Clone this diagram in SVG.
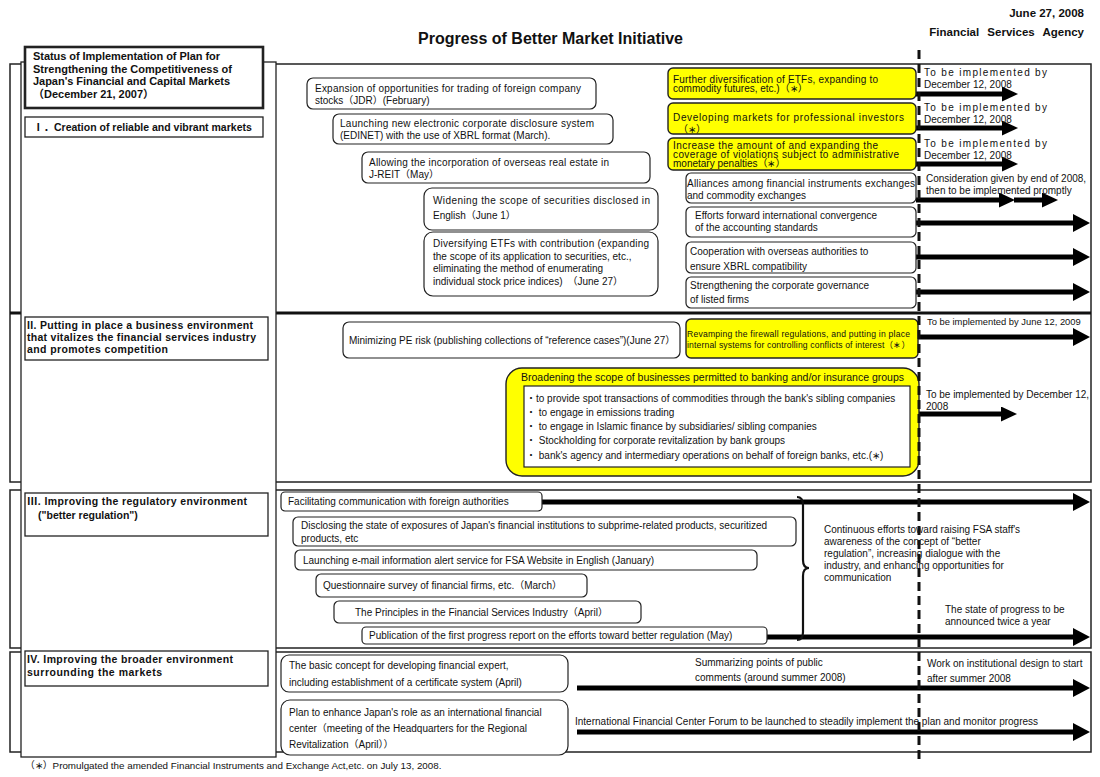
<svg xmlns="http://www.w3.org/2000/svg" width="1100" height="777" viewBox="0 0 1100 777" font-size="10">
<style>
text{font-family:"Liberation Sans",Arial,"Noto Sans CJK JP",sans-serif;fill:#111}
.b{font-weight:bold}
.sec{fill:none;stroke:#222;stroke-width:1.5}
.lbl{fill:#fff;stroke:#222;stroke-width:1.3}
.n{fill:#fff;stroke:#222;stroke-width:1.2}
.y{fill:#ffff00;stroke:#222;stroke-width:1.4}
.ar{stroke:#000;stroke-width:5;fill:none}
</style>
<defs>
<marker id="hb" viewBox="0 0 17 18" refX="0" refY="9" markerWidth="17" markerHeight="18" markerUnits="userSpaceOnUse" orient="auto"><path d="M0,0 L17,9 L0,18 z" fill="#000"/></marker>
<marker id="hs" viewBox="0 0 16 15" refX="0" refY="7.5" markerWidth="16" markerHeight="15" markerUnits="userSpaceOnUse" orient="auto"><path d="M0,0 L16,7.5 L0,15 z" fill="#000"/></marker>
</defs>
<rect width="1100" height="777" fill="#fff"/>

<!-- header -->
<text x="418" y="44" class="b" font-size="16">Progress of Better Market Initiative</text>
<text x="1084" y="17" class="b" font-size="11.5" text-anchor="end">June 27, 2008</text>
<text x="1084" y="36" class="b" font-size="11.5" text-anchor="end" word-spacing="5">Financial Services Agency</text>

<!-- sections -->
<g id="sections">
<rect class="sec" x="10" y="64" width="1081" height="418"/>
<line x1="10" y1="313" x2="1091" y2="313" stroke="#111" stroke-width="3"/>
<rect class="sec" x="10" y="490" width="1081" height="158"/>
<rect class="sec" x="10" y="652" width="1081" height="100"/>
<rect class="lbl" x="21" y="62" width="255" height="695"/>
</g>

<g id="title-box">
<rect x="25" y="47" width="238" height="61" fill="#fff" stroke="#222" stroke-width="2.6"/>
<text x="33" y="60" class="b" font-size="11" textLength="187" lengthAdjust="spacing">Status of Implementation of Plan for</text>
<text x="33" y="73" class="b" font-size="11" textLength="199" lengthAdjust="spacing">Strengthening the Competitiveness of</text>
<text x="33" y="85" class="b" font-size="11" textLength="197" lengthAdjust="spacing">Japan's Financial and Capital Markets</text>
<text x="33" y="98" class="b" font-size="11">（December 21, 2007）</text>
</g>

<g id="label-1">
<rect class="lbl" x="25" y="117" width="238" height="20"/>
<text x="33" y="131" class="b" font-size="10.5">Ⅰ．Creation of reliable and vibrant markets</text>
</g>
<g id="label-2">
<rect class="lbl" x="25" y="317" width="243" height="43"/>
<text x="27" y="329" class="b" font-size="10.5" textLength="226" lengthAdjust="spacing">II. Putting in place a business environment</text>
<text x="27" y="341" class="b" font-size="10.5" textLength="229" lengthAdjust="spacing">that vitalizes the financial services industry</text>
<text x="27" y="353" class="b" font-size="10.5" textLength="141" lengthAdjust="spacing">and promotes competition</text>
</g>
<g id="label-3">
<rect class="lbl" x="25" y="493" width="243" height="43"/>
<text x="27" y="505" class="b" font-size="10.5" textLength="220" lengthAdjust="spacing">Ⅲ. Improving the regulatory environment</text>
<text x="38" y="519" class="b" font-size="10.5">("better regulation")</text>
</g>
<g id="label-4">
<rect class="lbl" x="25" y="651" width="243" height="35"/>
<text x="27" y="663" class="b" font-size="10.5" textLength="206" lengthAdjust="spacing">IV. Improving the broader environment</text>
<text x="27" y="676" class="b" font-size="10.5" textLength="135" lengthAdjust="spacing">surrounding the markets</text>
</g>

<!-- connectors -->
<g id="connectors">
<line class="ar" x1="916" y1="94" x2="1002" y2="94" marker-end="url(#hs)"/>
<line class="ar" x1="916" y1="128" x2="1002" y2="128" marker-end="url(#hs)"/>
<line class="ar" x1="916" y1="164" x2="1002" y2="164" marker-end="url(#hs)"/>
<line class="ar" x1="916" y1="200" x2="999" y2="200" marker-end="url(#hs)"/>
<line class="ar" x1="1014" y1="200" x2="1042" y2="200" marker-end="url(#hs)"/>
<line class="ar" x1="916" y1="223" x2="1073" y2="223" marker-end="url(#hb)"/>
<line class="ar" x1="916" y1="257" x2="1073" y2="257" marker-end="url(#hb)"/>
<line class="ar" x1="916" y1="292" x2="1073" y2="292" marker-end="url(#hb)"/>
<line class="ar" x1="918" y1="337" x2="1073" y2="337" marker-end="url(#hb)"/>
<line class="ar" x1="919" y1="414" x2="1001" y2="414" marker-end="url(#hs)"/>
<line class="ar" x1="542" y1="502" x2="1073" y2="502" marker-end="url(#hb)"/>
<line class="ar" x1="767" y1="637" x2="1073" y2="637" marker-end="url(#hb)"/>
<line class="ar" x1="577" y1="688" x2="1073" y2="688" marker-end="url(#hb)"/>
<line class="ar" x1="577" y1="732" x2="1073" y2="732" marker-end="url(#hb)"/>
<path d="M797,497 Q803,497 803,505 L803,560 Q803,568 809,568 Q803,568 803,576 L803,632 Q803,640 797,640" fill="none" stroke="#111" stroke-width="2.2"/>
</g>

<!-- section I nodes -->
<g id="n-jdr">
<rect class="n" x="307" y="78" width="289" height="31" rx="6"/>
<text x="315" y="92" textLength="266" lengthAdjust="spacing">Expansion of opportunities for trading of foreign company</text>
<text x="315" y="104">stocks（JDR）(February)</text>
</g>
<g id="n-edinet">
<rect class="n" x="333" y="114" width="280" height="30" rx="6"/>
<text x="340" y="127" textLength="254" lengthAdjust="spacing">Launching new electronic corporate disclosure system</text>
<text x="340" y="139">(EDINET) with the use of XBRL format (March).</text>
</g>
<g id="n-jreit">
<rect class="n" x="362" y="152" width="288" height="31" rx="6"/>
<text x="369" y="166" textLength="240" lengthAdjust="spacing">Allowing the incorporation of overseas real estate in</text>
<text x="369" y="178">J-REIT（May）</text>
</g>
<g id="n-english">
<rect class="n" x="424" y="188" width="234" height="42" rx="8"/>
<text x="433" y="204" textLength="217" lengthAdjust="spacing">Widening the scope of securities disclosed in</text>
<text x="433" y="219">English（June 1）</text>
</g>
<g id="n-etf">
<rect class="n" x="424" y="232" width="234" height="64" rx="9"/>
<text x="433" y="247" textLength="216" lengthAdjust="spacing">Diversifying ETFs with contribution (expanding</text>
<text x="433" y="260">the scope of its application to securities, etc.,</text>
<text x="433" y="272">eliminating the method of enumerating</text>
<text x="433" y="285">individual stock price indices)　（June 27）</text>
</g>
<g id="y-etf">
<rect class="y" x="668" y="68" width="248" height="31" rx="5"/>
<text x="673" y="83" textLength="205" lengthAdjust="spacing">Further diversification of ETFs, expanding to</text>
<text x="673" y="92">commodity futures, etc.)（∗）</text>
</g>
<g id="y-pro">
<rect class="y" x="668" y="103" width="248" height="31" rx="5"/>
<text x="673" y="121" textLength="231" lengthAdjust="spacing">Developing markets for professional investors</text>
<text x="678" y="133">（∗）</text>
</g>
<g id="y-penalty">
<rect class="y" x="668" y="138" width="248" height="32" rx="5"/>
<text x="673" y="149" textLength="205" lengthAdjust="spacing">Increase the amount of and expanding the</text>
<text x="673" y="158" textLength="226" lengthAdjust="spacing">coverage of violations subject to administrative</text>
<text x="673" y="167">monetary penalties（∗）</text>
</g>
<g id="n-alliance">
<rect class="n" x="686" y="173" width="230" height="30" rx="5"/>
<text x="687" y="187" textLength="228" lengthAdjust="spacing">Alliances among financial instruments exchanges</text>
<text x="687" y="199">and commodity exchanges</text>
</g>
<g id="n-accounting">
<rect class="n" x="686" y="207" width="230" height="30" rx="5"/>
<text x="695" y="219">Efforts forward international convergence</text>
<text x="695" y="231">of the accounting standards</text>
</g>
<g id="n-xbrl">
<rect class="n" x="686" y="242" width="230" height="31" rx="5"/>
<text x="690" y="255">Cooperation with overseas authorities to</text>
<text x="690" y="270">ensure XBRL compatibility</text>
</g>
<g id="n-governance">
<rect class="n" x="686" y="277" width="230" height="31" rx="5"/>
<text x="690" y="289">Strengthening the corporate governance</text>
<text x="690" y="303">of listed firms</text>
</g>

<!-- arrow texts section I -->
<g id="t-dec1">
<text x="924" y="76" textLength="123" lengthAdjust="spacing">To be implemented by</text>
<text x="924" y="88">December 12, 2008</text>
</g>
<g id="t-dec2">
<text x="924" y="111" textLength="123" lengthAdjust="spacing">To be implemented by</text>
<text x="924" y="123">December 12, 2008</text>
</g>
<g id="t-dec3">
<text x="924" y="147" textLength="123" lengthAdjust="spacing">To be implemented by</text>
<text x="924" y="159">December 12, 2008</text>
</g>
<g id="t-consider">
<text x="926" y="182">Consideration given by end of 2008,</text>
<text x="926" y="194">then to be implemented promptly</text>
</g>

<!-- section II -->
<g id="n-pe">
<rect class="n" x="343" y="322" width="337" height="36" rx="6"/>
<text x="349" y="344">Minimizing PE risk (publishing collections of “reference cases”)(June 27）</text>
</g>
<g id="y-firewall">
<rect class="y" x="686" y="319" width="232" height="39" rx="5"/>
<text x="687" y="337" font-size="8.6" textLength="223" lengthAdjust="spacing">Revamping the firewall regulations, and putting in place</text>
<text x="687" y="348" font-size="8.6" textLength="223" lengthAdjust="spacing">internal systems for controlling conflicts of interest（∗）</text>
</g>
<text x="927" y="325" font-size="9.4">To be implemented by June 12, 2009</text>
<g id="y-broaden">
<rect class="y" x="506" y="368" width="413" height="108" rx="16"/>
<text x="521" y="381" font-size="10.5" textLength="383" lengthAdjust="spacing">Broadening the scope of businesses permitted to banking and/or insurance groups</text>
<rect x="524" y="386" width="386" height="81" fill="#fff" stroke="#222" stroke-width="1.2"/>
<text x="526" y="402">・to provide spot transactions of commodities through the bank's sibling companies</text>
<text x="526" y="416">・ to engage in emissions trading</text>
<text x="526" y="430">・ to engage in Islamic finance by subsidiaries/ sibling companies</text>
<text x="526" y="444">・ Stockholding for corporate revitalization by bank groups</text>
<text x="526" y="459">・ bank's agency and intermediary operations on behalf of foreign banks, etc.(∗)</text>
</g>
<g id="t-dec4">
<text x="926" y="398" textLength="163" lengthAdjust="spacing">To be implemented by December 12,</text>
<text x="926" y="410">2008</text>
</g>

<!-- section III -->
<g id="n-facilitate">
<rect class="n" x="281" y="492" width="261" height="19" rx="4"/>
<text x="288" y="505">Facilitating communication with foreign authorities</text>
</g>
<g id="n-subprime">
<rect class="n" x="293" y="517" width="503" height="29" rx="5"/>
<text x="301" y="529" textLength="466" lengthAdjust="spacing">Disclosing the state of exposures of Japan's financial institutions to subprime-related products, securitized</text>
<text x="301" y="542">products, etc</text>
</g>
<g id="n-email">
<rect class="n" x="295" y="550" width="462" height="20" rx="5"/>
<text x="303" y="564">Launching e-mail information alert service for FSA Website in English (January)</text>
</g>
<g id="n-survey">
<rect class="n" x="316" y="574" width="271" height="23" rx="5"/>
<text x="323" y="589">Questionnaire survey of financial firms, etc.（March）</text>
</g>
<g id="n-principles">
<rect class="n" x="334" y="601" width="307" height="22" rx="5"/>
<text x="355" y="616">The Principles in the Financial Services Industry（April）</text>
</g>
<g id="n-publication">
<rect class="n" x="362" y="627" width="405" height="17" rx="4"/>
<text x="369" y="639">Publication of the first progress report on the efforts toward better regulation (May)</text>
</g>
<g id="t-continuous">
<text x="824" y="533">Continuous efforts toward raising FSA staff's</text>
<text x="824" y="545">awareness of the concept of “better</text>
<text x="824" y="557">regulation”, increasing dialogue with the</text>
<text x="824" y="569">industry, and enhancing opportunities for</text>
<text x="824" y="581">communication</text>
</g>
<g id="t-state">
<text x="945" y="613">The state of progress to be</text>
<text x="945" y="625">announced twice a year</text>
</g>

<!-- section IV -->
<g id="n-expert">
<rect class="n" x="281" y="655" width="287" height="37" rx="8"/>
<text x="289" y="669">The basic concept for developing financial expert,</text>
<text x="289" y="686">including establishment of a certificate system (April)</text>
</g>
<g id="n-center">
<rect class="n" x="281" y="700" width="287" height="55" rx="9"/>
<text x="289" y="716">Plan to enhance Japan's role as an international financial</text>
<text x="289" y="732">center（meeting of the Headquarters for the Regional</text>
<text x="289" y="748">Revitalization（April））</text>
</g>
<g id="t-summ">
<text x="695" y="666">Summarizing points of public</text>
<text x="695" y="681">comments (around summer 2008)</text>
</g>
<g id="t-work">
<text x="927" y="667">Work on institutional design to start</text>
<text x="927" y="682">after summer 2008</text>
</g>
<text x="575" y="725">International Financial Center Forum to be launched to steadily implement the plan and monitor progress</text>

<!-- dashed timeline -->
<line x1="919" y1="50" x2="919" y2="763" stroke="#111" stroke-width="3" stroke-dasharray="9 5"/>

<text x="25" y="769" font-size="9.8">（∗）Promulgated the amended Financial Instruments and Exchange Act,etc. on July 13, 2008.</text>
</svg>
